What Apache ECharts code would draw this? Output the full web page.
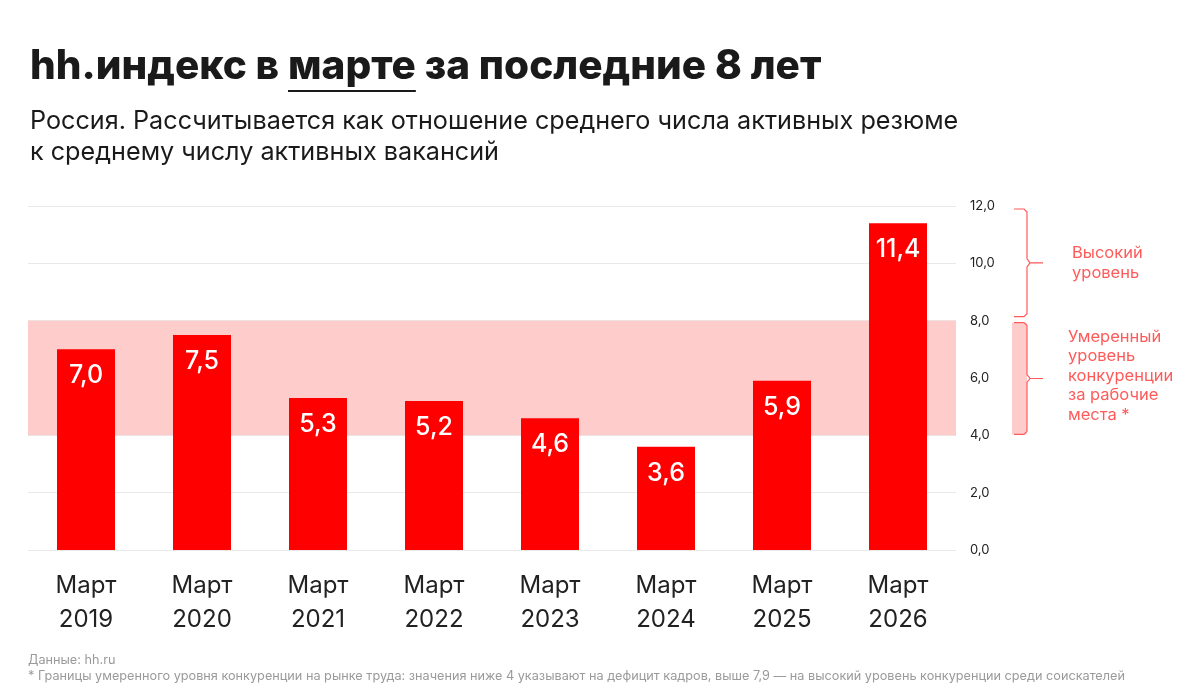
<!DOCTYPE html>
<html>
<head>
<meta charset="utf-8">
<script src="https://cdn.jsdelivr.net/npm/echarts@6/dist/echarts.min.js"></script>
<style>
  html, body { margin: 0; padding: 0; background: #fff; }
  #visualisation { width: 1200px; height: 696px; }
</style>
</head>
<body>
<div id="visualisation"></div>
<script>
// Данные графика
const categories = ['Март\n2019', 'Март\n2020', 'Март\n2021', 'Март\n2022', 'Март\n2023', 'Март\n2024', 'Март\n2025', 'Март\n2026'];
const values = [7.0, 7.5, 5.3, 5.2, 4.6, 3.6, 5.9, 11.4];
const moderateBand = [4, 8];
const highBand = [8, 12];
const yTicks = [0, 2, 4, 6, 8, 10, 12];

const FONT = 'Inter, "Noto Sans", sans-serif';
const RED = '#ff0000';
const NOTE_RED = '#ff5a5a';
const TITLE_FONT = '800 40.5px ' + FONT;

function comma(v, digits) {
    return v.toFixed(digits).replace('.', ',');
}

// ширина текста, чтобы подчеркнуть слово «марте»
function textWidth(text, font) {
    const ctx = document.createElement('canvas').getContext('2d');
    ctx.font = font;
    return ctx.measureText(text).width;
}

function drawVisualisation() {
    let visualisation = echarts.init(document.getElementById('visualisation'));

    let option = {
        animation: false,
        backgroundColor: '#fff',
        textStyle: { fontFamily: FONT },
        grid: { left: 28, right: 244, top: 206, bottom: 146 },
        xAxis: {
            type: 'category',
            data: categories,
            axisLine: { show: false },
            axisTick: { show: false },
            axisLabel: {
                margin: 19,
                fontSize: 24,
                lineHeight: 34,
                color: '#222',
                fontFamily: FONT
            }
        },
        yAxis: {
            type: 'value',
            position: 'right',
            min: yTicks[0],
            max: yTicks[yTicks.length - 1],
            interval: 2,
            axisLine: { show: false },
            axisTick: { show: false },
            splitLine: { lineStyle: { color: '#e9e9e9', width: 1 } },
            axisLabel: {
                margin: 14,
                fontSize: 13,
                color: '#222',
                fontFamily: FONT,
                formatter: v => comma(v, 1)
            }
        },
        series: [{
            type: 'bar',
            data: values,
            barWidth: 58,
            itemStyle: { color: RED },
            z: 3,
            label: {
                show: true,
                position: 'insideTop',
                distance: 14,
                color: '#fff',
                fontSize: 25,
                fontWeight: 500,
                fontFamily: FONT,
                formatter: p => comma(p.value, 1)
            },
            markArea: {
                silent: true,
                itemStyle: { color: '#ffcccc' },
                data: [[{ yAxis: moderateBand[0] }, { yAxis: moderateBand[1] }]]
            }
        }]
    };

    visualisation.setOption(option);

    // Фигурные скобки справа, по координатам оси
    const yPx = v => visualisation.convertToPixel({ yAxisIndex: 0 }, v);
    const x0 = 1014, x1 = 1027, xTip = 1043;

    function bracket(top, bottom) {
        const mid = (top + bottom) / 2;
        return {
            type: 'polyline',
            shape: {
                points: [
                    [x0, top], [x1 - 3, top], [x1, top + 3],
                    [x1, mid - 4], [x1 + 3, mid], [xTip, mid], [x1 + 3, mid], [x1, mid + 4],
                    [x1, bottom - 3], [x1 - 3, bottom], [x0, bottom]
                ]
            },
            style: { stroke: NOTE_RED, lineWidth: 1.2, fill: null }
        };
    }

    const hTop = yPx(highBand[1]) + 3, hBot = yPx(highBand[0]) - 4;
    const mTop = yPx(moderateBand[1]) + 2, mBot = yPx(moderateBand[0]) - 1;

    const titleLeft = 30;
    const ulStart = titleLeft + textWidth('hh.индекс в ', TITLE_FONT);
    const ulEnd = ulStart + textWidth('марте', TITLE_FONT);

    visualisation.setOption({
        graphic: [
            {
                type: 'text', left: titleLeft, top: 46,
                style: { text: 'hh.индекс в марте за последние 8 лет', font: TITLE_FONT, fill: '#1a1a1a' }
            },
            {
                type: 'line',
                shape: { x1: ulStart, y1: 91, x2: ulEnd, y2: 91 },
                style: { stroke: '#1a1a1a', lineWidth: 2 }
            },
            {
                type: 'text', left: 30, top: 106,
                style: {
                    text: 'Россия. Рассчитывается как отношение среднего числа активных резюме\nк среднему числу активных вакансий',
                    font: '25.2px ' + FONT, lineHeight: 31, fill: '#1a1a1a'
                }
            },
            {
                type: 'rect',
                shape: { x: x0 - 2, y: mTop, width: x1 - x0 + 2, height: mBot - mTop },
                style: { fill: '#ffcccc' }
            },
            bracket(hTop, hBot),
            bracket(mTop, mBot),
            {
                type: 'text', left: 1072, top: 243,
                style: { text: 'Высокий\nуровень', font: '16.5px ' + FONT, lineHeight: 20, fill: NOTE_RED }
            },
            {
                type: 'text', left: 1068, top: 327,
                style: {
                    text: 'Умеренный\nуровень\nконкуренции\nза рабочие\nместа *',
                    font: '16.5px ' + FONT, lineHeight: 19.5, fill: NOTE_RED
                }
            },
            {
                type: 'text', left: 28, top: 654,
                style: { text: 'Данные: hh.ru', font: '12.7px ' + FONT, fill: '#9a9a9a' }
            },
            {
                type: 'text', left: 28, top: 670,
                style: {
                    text: '* Границы умеренного уровня конкуренции на рынке труда: значения ниже 4 указывают на дефицит кадров, выше 7,9 — на высокий уровень конкуренции среди соискателей',
                    font: '12.7px ' + FONT, fill: '#9a9a9a'
                }
            }
        ]
    });

    window.onresize = () => visualisation.resize();
}

window.addEventListener('load', drawVisualisation);
</script>
</body>
</html>
